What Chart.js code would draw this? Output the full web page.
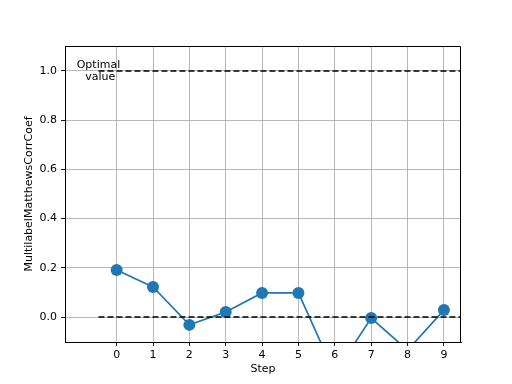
<!DOCTYPE html>
<html>
<head>
<meta charset="utf-8">
<script src="https://cdn.jsdelivr.net/npm/chart.js@4"></script>
<style>
html,body{margin:0;padding:0;background:#fff;}
#wrap{width:512px;height:384px;}
</style>
</head>
<body>
<div id="wrap"><canvas id="c" width="512" height="384"></canvas></div>
<script>
const steps = [0,1,2,3,4,5,6,7,8,9];
const mccValues = [0.191, 0.122, -0.032, 0.020, 0.098, 0.098, -0.23, -0.004, -0.135, 0.028];
const optimalValue = 1.0;
const baselineValue = 0.0;
const xTicks = [0,1,2,3,4,5,6,7,8,9];
const yTicks = [0.0,0.2,0.4,0.6,0.8,1.0];
const optimalLabel = ["Optimal", " value"];

const FONT = "'DejaVu Sans', sans-serif";

const frame = {
  id: 'frame',
  afterDatasetsDraw(chart) {
    const {ctx, chartArea: a, scales} = chart;
    ctx.save();
    ctx.strokeStyle = '#000';
    ctx.lineWidth = 1;
    const t = Math.round(a.top)+0.5, r = Math.round(a.right)-0.5, b = Math.round(a.bottom);
    ctx.beginPath();
    ctx.moveTo(Math.round(a.left), t);
    ctx.lineTo(r, t);
    ctx.lineTo(r, b);
    ctx.stroke();
    ctx.fillStyle = '#000';
    ctx.font = '11px ' + FONT;
    ctx.textAlign = 'center';
    ctx.textBaseline = 'middle';
    const x = scales.x.getPixelForValue(-0.5);
    const y = scales.y.getPixelForValue(optimalValue);
    ctx.fillText(optimalLabel[0], x, y - 6);
    ctx.fillText(optimalLabel[1], x, y + 6);
    ctx.restore();
  }
};

new Chart(document.getElementById('c'), {
  type: 'line',
  data: {
    datasets: [
      {
        data: [{x:-0.5, y:optimalValue},{x:9.5, y:optimalValue}],
        borderColor: '#000', borderWidth: 1.6, borderDash: [6,3],
        pointRadius: 0, clip: 0
      },
      {
        data: [{x:-0.5, y:baselineValue},{x:9.5, y:baselineValue}],
        borderColor: '#000', borderWidth: 1.6, borderDash: [6,3],
        pointRadius: 0, clip: 0
      },
      {
        data: steps.map((s,i)=>({x:s, y:mccValues[i]})),
        borderColor: '#1f77b4', backgroundColor: '#1f77b4',
        borderWidth: 1.7, pointRadius: 6, pointHoverRadius: 6,
        pointBorderWidth: 0, tension: 0, clip: 0
      }
    ]
  },
  options: {
    responsive: false,
    animation: false,
    events: [],
    layout: {padding: {top: 46, right: 51, left: 0, bottom: 0}},
    plugins: {legend: {display: false}, tooltip: {enabled: false}},
    scales: {
      x: {
        type: 'linear', min: -1.42, max: 9.47,
        afterBuildTicks: s => { s.ticks = xTicks.map(v=>({value:v})); },
        afterFit: s => { s.height = 42; },
        grid: {color: '#b0b0b0', lineWidth: 0.9, tickColor: '#000', tickLength: 4, drawTicks: true},
        border: {display: true, color: '#000', width: 1},
        ticks: {color: '#000', font: {family: FONT, size: 11}, padding: 3, maxRotation: 0,
                callback: v => String(v)},
        title: {display: true, text: 'Step', color: '#000', font: {family: FONT, size: 11}, padding: {top: 1, bottom: 8}}
      },
      y: {
        type: 'linear', min: -0.1016, max: 1.1016,
        afterBuildTicks: s => { s.ticks = yTicks.map(v=>({value:v})); },
        afterFit: s => { s.width = 65; },
        grid: {color: '#b0b0b0', lineWidth: 0.9, tickColor: '#000', tickLength: 4},
        border: {display: true, color: '#000', width: 1},
        ticks: {color: '#000', font: {family: FONT, size: 11}, padding: 4,
                callback: v => Number(v).toFixed(1)},
        title: {display: true, text: 'MultilabelMatthewsCorrCoef', color: '#000', font: {family: FONT, size: 11}, padding: {top: 23, bottom: 0}}
      }
    }
  },
  plugins: [frame]
});
</script>
</body>
</html>
